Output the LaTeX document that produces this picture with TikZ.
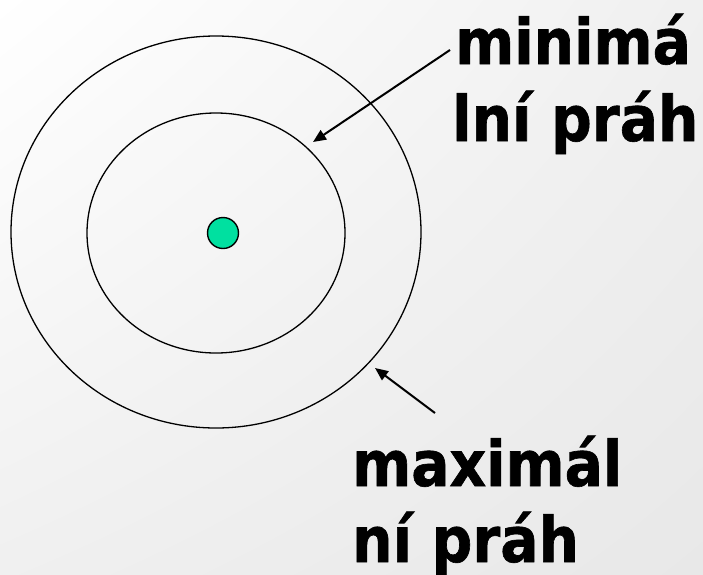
\documentclass[tikz,border=0pt]{standalone}
\usepackage{fontspec}
\setmainfont{DejaVu Sans}
\newfontfamily\lblfont[FakeStretch=0.9,FakeBold=1]{DejaVu Sans Bold}
\usetikzlibrary{shapes.geometric,arrows.meta,shadings}
\definecolor{dotgreen}{RGB}{0,224,160}
\begin{document}
\begin{tikzpicture}[x=1pt,y=-1pt,
  ring/.style={draw=black,line width=1.3pt,ellipse,inner sep=0pt},
  pointer/.style={draw=black,line width=2pt,-{Triangle[length=13pt,width=11pt]}},
  lbl/.style={font=\lblfont\fontsize{63}{76}\selectfont,anchor=base west,inner sep=0pt}]
\shade[upper left=white, upper right=black!6, lower left=black!6, lower right=black!9] (0,0) rectangle (703,574);
\useasboundingbox (0,0) rectangle (703,574);
\node[ring,minimum width=410pt,minimum height=392pt] (outer) at (216,232) {};
\node[ring,minimum width=258pt,minimum height=240pt] (inner) at (216,233) {};
\node[circle,draw=black,line width=1.4pt,fill=dotgreen,minimum size=31pt,inner sep=0pt] (dot) at (223,233) {};
\node[lbl] (min1) at (455,64) {minimá};
\node[lbl] (min2) at (452,141) {lní práh};
\node[lbl] (max1) at (352,486) {maximál};
\node[lbl] (max2) at (352,562) {ní práh};
\coordinate (mintail) at (450,50);
\coordinate (mintip) at (313,142);
\coordinate (maxtail) at (435,413);
\coordinate (maxtip) at (375,368);
\draw[pointer] (mintail) -- (mintip);
\draw[pointer] (maxtail) -- (maxtip);
\end{tikzpicture}
\end{document}
